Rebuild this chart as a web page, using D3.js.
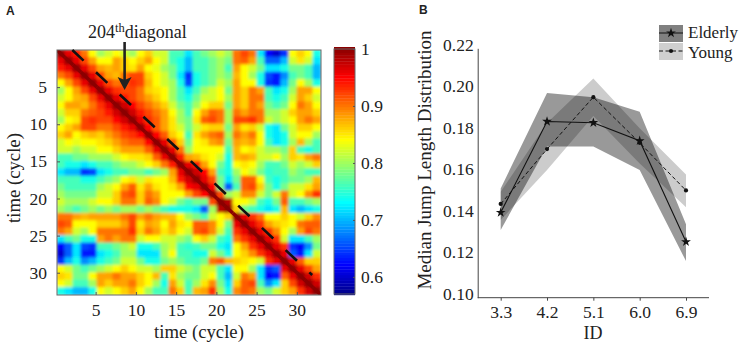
<!DOCTYPE html>
<html><head><meta charset="utf-8">
<script src="https://cdnjs.cloudflare.com/ajax/libs/d3/7.9.0/d3.min.js"></script>
<style>
html,body{margin:0;padding:0;background:#fff}
text{font-family:"Liberation Serif",serif;fill:#222}
</style></head><body>
<svg id="c" width="743" height="346"></svg>
<script>
// Panel A: upper triangle of the symmetric matrix, correlation in hundredths; row i lists columns i..33
const corrRows = [
[100,96,94,90,84, 80,82,84,82,80, 84,86,82,82,76, 76,72,76,78,80, 82,80,90,92,90, 72,62,60,64,84, 86,84,74],
[100,96,92,88, 84,84,88,86,84, 86,88,84,82,76, 74,70,76,76,78, 80,78,90,91,88, 76,66,66,70,82, 85,82,72],
[100,96,92, 88,87,88,86,85, 88,84,83,80,78, 74,70,76,76,78, 80,76,88,84,82, 78,72,72,74,78, 78,76,70],
[100,96, 92,88,87,90,92, 92,86,84,82,78, 72,64,74,76,78, 80,78,87,84,80, 74,65,63,68,76, 78,76,70],
[100, 96,92,90,91,93, 92,87,84,82,80, 74,65,74,76,78, 82,80,88,84,84, 74,64,63,70,78, 84,80,74],
[100,96,93,92,92, 90,86,85,84,80, 76,72,76,80,82, 84,78,88,86,90, 88,76,72,74,80, 88,88,84],
[100,96,94,92, 90,88,86,84,80, 76,74,78,82,82, 84,80,88,86,90, 90,76,74,76,82, 88,86,82],
[100,97,95, 92,90,88,86,82, 78,76,80,84,86, 86,78,88,86,90, 88,78,76,78,84, 90,88,84],
[100,97, 94,92,90,88,84, 80,76,84,88,91, 90,80,90,88,90, 90,80,80,82,86, 88,88,86],
[100, 96,93,91,88,85, 80,78,85,91,92, 90,80,92,92,93, 90,82,80,82,84, 88,90,88],
[100,95,91,88,85, 82,78,82,85,86, 86,78,88,85,86, 82,74,72,78,82, 86,86,84],
[100,95,91,86, 84,76,85,88,90, 91,80,90,88,90, 84,74,72,74,82, 84,84,80],
[100,96,91, 86,78,84,85,88, 89,78,88,87,88, 84,76,72,74,80, 87,80,76],
[100,96, 90,80,84,84,84, 84,76,87,84,85, 82,80,80,78,86, 76,74,76],
[100, 94,88,87,85,84, 82,74,87,88,87, 82,82,84,80,86, 85,88,90],
[100,96,94,88,84, 78,74,84,85,84, 80,76,76,78,82, 80,82,86],
[100,97,95,88, 76,74,80,84,82, 78,75,76,76,80, 78,76,76],
[100,96,92, 78,72,78,91,91, 84,76,74,76,78, 78,80,87],
[100,95, 78,66,76,91,92, 86,78,74,78,82, 82,85,88],
[100, 92,80,82,89,89, 82,78,82,90,82, 84,89,93],
[100,98,84,84,82, 76,74,78,91,76, 76,78,80],
[100,86,78,76, 74,72,74,87,72, 70,72,74],
[100,96,93, 90,84,84,86,84, 82,86,89],
[100,96, 93,88,86,85,84, 90,91,91],
[100, 96,93,89,84,80, 88,92,90],
[100,96,93,82,72, 72,76,80],
[100,96,93,64, 62,68,78],
[100,96,66, 63,72,82],
[100,96, 91,86,86],
[100, 96,92,88],
[100,97,93],
[100,97],
[100]
];
const cycles = d3.range(1,34);
const cycleTicks = [5,10,15,20,25,30];
const barTicks = [0.6,0.7,0.8,0.9,1];
const diagonalEnds = [[2.1,0],[31.9,30.3]];
const arrowAt = [[8.6,-1],[8.6,5.4]];

// Panel B
const ids = ["3.3","4.2","5.1","6.0","6.9"];
const elderlyMean = [0.141,0.1848,0.1842,0.1755,0.1269];
const elderlyHigh = [0.1526,0.1985,0.1965,0.1895,0.1354];
const elderlyLow  = [0.1326,0.1727,0.1727,0.1614,0.1176];
const youngMean = [0.1451,0.1715,0.1965,0.1745,0.1516];
const youngHigh = [0.151,0.184,0.2055,0.1815,0.1593];
const youngLow  = [0.1374,0.1614,0.1874,0.1646,0.1435];
const yTicks = [0.10,0.12,0.14,0.16,0.18,0.20,0.22];

const svg = d3.select("#c");
const defs = svg.append("defs");
defs.append("filter").attr("id","soft").attr("x","-5%").attr("y","-5%").attr("width","110%").attr("height","110%")
  .append("feGaussianBlur").attr("stdDeviation","1.8");
defs.append("clipPath").attr("id","hm").append("rect").attr("x",57).attr("y",50).attr("width",264).attr("height",245);

const jet = t=>{
  const c=v=>Math.round(255*Math.max(0,Math.min(1,1.5-Math.abs(4*t-v))));
  return `rgb(${c(3)},${c(2)},${c(1)})`;
};
const colour = d3.scaleLinear().domain([0.57,1]).range([0.01,0.99]).clamp(true);
const col = v=>jet(colour(v));

const xA = d3.scaleLinear().domain([0.2,33]).range([57,321]);
const yA = d3.scaleLinear().domain([0,33]).range([50,295]);
const A = svg.append("g");
const cells=[];
corrRows.forEach((r,i)=>r.forEach((v,k)=>{const j=i+k;cells.push({i,j,v:v/100});if(i!==j)cells.push({i:j,j:i,v:v/100});}));
const cellX=d3.scaleBand().domain(cycles).range([57,321]);
const cellY=d3.scaleBand().domain(cycles).range([50,295]);
const clipG=A.append("g").attr("clip-path","url(#hm)");
const hm=clipG.append("g").attr("filter","url(#soft)");
hm.selectAll("rect").data(cells).join("rect")
  .attr("x",d=>cellX(cycles[d.j])-0.5).attr("y",d=>cellY(cycles[d.i])-0.5)
  .attr("width",cellX.bandwidth()+1).attr("height",cellY.bandwidth()+1)
  .attr("fill",d=>col(d.v));
// the unit diagonal stays sharp
clipG.append("g").selectAll("path").data(corrRows.map((r,i)=>({i,v:r[0]/100}))).join("path")
  .attr("d",d=>{const x0=cellX(cycles[d.i]),y0=cellY(cycles[d.i]),w=cellX.bandwidth(),h=cellY.bandwidth();
    return `M${x0},${y0}L${x0+w},${y0+h}`;})
  .attr("stroke",d=>col(d.v)).attr("stroke-width",3.5).attr("fill","none");
A.append("rect").attr("x",57).attr("y",50).attr("width",264).attr("height",245).attr("fill","none").attr("stroke","#666").attr("stroke-width",1);

const gx=A.append("g").attr("transform","translate(0,295)").call(d3.axisBottom(xA).tickValues(cycleTicks).tickSize(-3).tickPadding(9));
const gy=A.append("g").attr("transform","translate(57,0)").call(d3.axisLeft(yA).tickValues(cycleTicks).tickSize(-3).tickPadding(10));
[gx,gy].forEach(g=>{g.select(".domain").remove();g.selectAll("line").attr("stroke","#555");g.selectAll("text").attr("font-size",17.5).attr("fill","#222").style("font-family","Liberation Serif");});
A.append("text").attr("x",199).attr("y",338).attr("text-anchor","middle").attr("font-size",18.7).text("time (cycle)");
A.append("text").attr("transform","translate(20,178) rotate(-90)").attr("text-anchor","middle").attr("font-size",18.7).text("time (cycle)");

A.append("line").attr("x1",xA(diagonalEnds[0][0])).attr("y1",yA(diagonalEnds[0][1])).attr("x2",xA(diagonalEnds[1][0])).attr("y2",yA(diagonalEnds[1][1]))
  .attr("stroke","#111").attr("stroke-width",2.6).attr("stroke-dasharray","15.5 17");

const ax=xA(arrowAt[0][0]);
A.append("line").attr("x1",ax).attr("x2",ax).attr("y1",42).attr("y2",82).attr("stroke","#222").attr("stroke-width",2.6);
A.append("path").attr("d",`M${ax-7},77L${ax},90L${ax+7},77L${ax},80Z`).attr("fill","#222");
const lab=A.append("text").attr("x",88).attr("y",38).attr("font-size",18);
lab.append("tspan").text("204");
lab.append("tspan").attr("dy",-6).attr("font-size",12.5).text("th");
lab.append("tspan").attr("dy",6).text("diagonal");

// colour bar
const yBar=d3.scaleLinear().domain([0.57,1]).range([294,49]);
const barVals=d3.range(0.57,1.0001,0.005);
A.append("g").selectAll("rect").data(barVals).join("rect")
  .attr("x",334).attr("width",21).attr("y",d=>yBar(d)-2).attr("height",3.2).attr("fill",d=>col(d));
A.append("rect").attr("x",334).attr("y",49).attr("width",21).attr("height",245).attr("fill","none").attr("stroke","#666");
const gb=A.append("g").attr("transform","translate(355,0)").call(d3.axisRight(yBar).tickValues(barTicks).tickSize(-2).tickPadding(6).tickFormat(d=>d===1?"1":d.toFixed(1)));
gb.select(".domain").remove();gb.selectAll("line").attr("stroke","#555");
gb.selectAll("text").attr("font-size",17.5).attr("fill","#222").style("font-family","Liberation Serif");

svg.append("text").attr("x",6).attr("y",15).attr("font-size",12).attr("font-weight","bold").style("font-family","Liberation Sans").text("A");
svg.append("text").attr("x",419).attr("y",14).attr("font-size",12).attr("font-weight","bold").style("font-family","Liberation Sans").text("B");

// Panel B
const xB=d3.scalePoint().domain(ids).range([500.7,686]);
const yB=d3.scaleLinear().domain([0.10,0.22]).range([297.7,48.3]);
const B=svg.append("g");
const area=(hi,lo)=>d3.area().x((d,i)=>xB(ids[i])).y0((d,i)=>yB(lo[i])).y1((d,i)=>yB(hi[i]))(ids);
B.append("path").attr("d",area(youngHigh,youngLow)).attr("fill","#000").attr("opacity",0.2);
B.append("path").attr("d",area(elderlyHigh,elderlyLow)).attr("fill","#000").attr("opacity",0.4);
const line=vals=>d3.line().x((d,i)=>xB(ids[i])).y((d,i)=>yB(vals[i]))(ids);
B.append("path").attr("d",line(elderlyMean)).attr("fill","none").attr("stroke","#111").attr("stroke-width",1.1);
B.append("path").attr("d",line(youngMean)).attr("fill","none").attr("stroke","#111").attr("stroke-width",1).attr("stroke-dasharray","4 2.5");
const star=d3.symbol().type(d3.symbolStar).size(30)();
const dot=d3.symbol().type(d3.symbolCircle).size(14)();
B.selectAll(".s").data(elderlyMean).join("path").attr("d",star).attr("fill","#111").attr("transform",(d,i)=>`translate(${xB(ids[i])},${yB(d)})`);
B.selectAll(".d").data(youngMean).join("path").attr("d",dot).attr("fill","#111").attr("transform",(d,i)=>`translate(${xB(ids[i])},${yB(d)})`);

const gxB=B.append("g").attr("transform","translate(0,297.7)").call(d3.axisBottom(xB).tickSize(3).tickPadding(5));
gxB.select(".domain").attr("d","M477.7,0H709").attr("stroke","#444");
const gyB=B.append("g").attr("transform","translate(477.7,0)").call(d3.axisLeft(yB).tickValues(yTicks).tickSize(0).tickPadding(4).tickFormat(d3.format(".2f")));
gyB.select(".domain").attr("stroke","#444");
gyB.selectAll("text").attr("dy","0.1em");
[gxB,gyB].forEach(g=>{g.selectAll("line").attr("stroke","#444");g.selectAll("text").attr("font-size",17.5).attr("fill","#222").style("font-family","Liberation Serif");});
B.append("text").attr("x",593).attr("y",339).attr("text-anchor","middle").attr("font-size",18).text("ID");
B.append("text").attr("transform","translate(431,160) rotate(-90)").attr("text-anchor","middle").attr("font-size",19).text("Median Jump Length Distribution");

// legend
const L=svg.append("g");
const legendRows=[{name:"Elderly",y:25,fill:"#808080",dash:null,sym:star},{name:"Young",y:43,fill:"#cfcfcf",dash:"4 2.5",sym:dot}];
legendRows.forEach((r,i)=>{
  L.append("rect").attr("x",659).attr("y",r.y).attr("width",24).attr("height",17).attr("fill",r.fill);
  L.append("line").attr("x1",659).attr("x2",683).attr("y1",r.y+8).attr("y2",r.y+8).attr("stroke","#111").attr("stroke-width",1).attr("stroke-dasharray",r.dash);
  L.append("path").attr("d",r.sym).attr("fill","#111").attr("transform",`translate(671,${r.y+8})`);
  L.append("text").attr("x",688).attr("y",r.y+13+i*1.5).attr("font-size",17).text(r.name);
});
</script></body></html>
